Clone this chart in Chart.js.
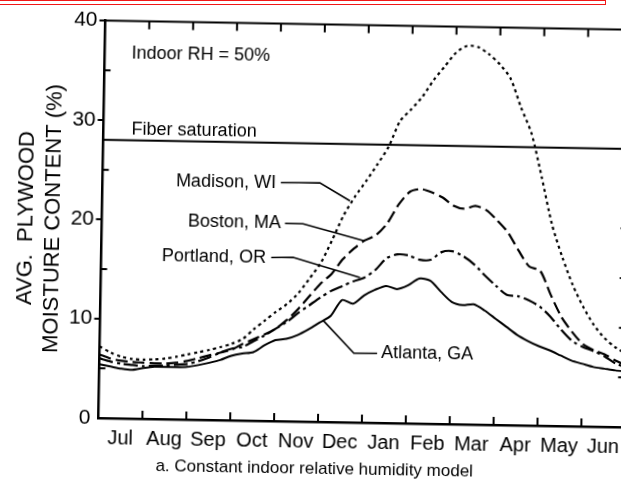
<!DOCTYPE html>
<html>
<head>
<meta charset="utf-8">
<script src="https://cdn.jsdelivr.net/npm/chart.js@4.4.1/dist/chart.umd.min.js"></script>
<style>
  html, body { margin: 0; padding: 0; background: #fff; overflow: hidden; }
  #wrap { position: absolute; left: 0; top: 0; width: 640px; height: 484px;
          transform-origin: 98.5px 418px; transform: rotate(1deg); }
  #mark { position: absolute; left: -3px; top: 0; width: 609px; height: 5px;
          box-sizing: border-box; border: 1.5px solid #f01818; }
</style>
</head>
<body>
<div id="wrap"><canvas id="chart"></canvas></div>
<div id="mark"></div>
<script>
// months counted from 1 July, plotted every quarter month
const months = ["Jul", "Aug", "Sep", "Oct", "Nov", "Dec", "Jan", "Feb", "Mar", "Apr", "May", "Jun"];
const weeks = [0, 0.25, 0.5, 0.75, 1, 1.25, 1.5, 1.75, 2, 2.25, 2.5, 2.75, 3, 3.25, 3.5, 3.75,
  4, 4.25, 4.5, 4.75, 5, 5.25, 5.5, 5.75, 6, 6.25, 6.5, 6.75, 7, 7.25, 7.5, 7.75,
  8, 8.25, 8.5, 8.75, 9, 9.25, 9.5, 9.75, 10, 10.25, 10.5, 10.75, 11, 11.25, 11.5, 11.75, 12];

const madison = [7.2, 6.6, 6.2, 6.0, 5.95, 6.0, 6.1, 6.3, 6.55, 6.8, 7.05, 7.35, 7.7, 8.2, 9.2, 10.1,
  11.0, 11.8, 12.9, 14.4, 16.0, 18.3, 20.8, 22.7, 24.3, 26.0, 27.8, 30.4, 31.6, 32.9, 34.6, 36.0,
  37.4, 38.1, 38.0, 37.3, 36.3, 34.9, 32.0, 29.4, 25.0, 20.3, 17.0, 14.2, 12.0, 10.2, 8.9, 8.0, 7.4];
const boston = [6.4, 6.0, 5.8, 5.7, 5.65, 5.6, 5.6, 5.7, 5.9, 6.2, 6.5, 6.8, 7.1, 7.7, 8.2, 8.7,
  9.3, 10.2, 11.3, 12.6, 13.9, 14.9, 16.4, 17.5, 18.35, 18.9, 20.1, 22.0, 23.3, 23.6, 23.3, 22.8,
  22.0, 21.7, 22.0, 21.6, 20.6, 19.4, 17.6, 16.0, 15.6, 13.2, 11.0, 9.5, 8.3, 7.7, 7.3, 6.7, 6.2];
const portland = [6.0, 5.7, 5.5, 5.4, 5.3, 5.35, 5.4, 5.5, 5.6, 5.9, 6.3, 6.8, 7.2, 7.4, 8.0, 8.6,
  9.3, 10.0, 10.9, 11.7, 12.5, 13.2, 13.7, 14.2, 14.6, 15.4, 16.6, 17.0, 16.9, 16.5, 16.5, 17.3,
  17.4, 16.9, 16.1, 15.0, 14.0, 13.1, 13.0, 12.6, 12.0, 11.0, 9.7, 8.6, 8.0, 7.6, 7.1, 6.4, 6.0];
const atlanta = [5.4, 5.2, 5.0, 4.9, 5.1, 5.25, 5.25, 5.25, 5.3, 5.5, 5.75, 6.05, 6.5, 6.75, 6.9, 7.6,
  8.15, 8.3, 8.7, 9.3, 10.0, 10.7, 12.3, 11.95, 12.8, 13.4, 13.8, 13.5, 13.9, 14.6, 14.4, 13.3,
  12.3, 12.0, 12.1, 11.5, 10.7, 9.9, 9.1, 8.5, 8.0, 7.6, 7.1, 6.6, 6.3, 6.0, 5.85, 5.7, 5.6];
const fiberSaturation = 28;

const FONT = "'Liberation Sans', Arial, sans-serif";

// annotation texts and their leader lines, in data units
const notes = [
  { text: "Indoor RH = 50%", at: [0.61, 36.7], align: "left" },
  { text: "Fiber saturation", at: [0.64, 29.1], align: "left" },
  { text: "Madison, WI", at: [3.95, 24.0], align: "right", leader: [[4.06, 24.0], [4.95, 24.06], [5.64, 22.3]] },
  { text: "Boston, MA", at: [4.08, 19.9], align: "right", leader: [[4.17, 19.9], [4.58, 19.9], [5.98, 18.3]] },
  { text: "Portland, OR", at: [3.75, 16.4], align: "right", leader: [[3.87, 16.45], [4.37, 16.5], [5.9, 14.6]] },
  { text: "Atlanta, GA", at: [6.41, 7.0], align: "left", leader: [[6.32, 7.0], [5.79, 6.97], [5.08, 10.2]] }
];

const pts = s => weeks.map((w, i) => ({ x: w, y: s[i] }));

const frame = {
  id: "frame",
  afterDatasetsDraw(chart) {
    const { ctx, chartArea: a, scales: { x, y } } = chart;
    ctx.save();
    ctx.strokeStyle = "#000";
    ctx.lineWidth = 2;
    ctx.beginPath();
    ctx.moveTo(a.left - 1, a.top);
    ctx.lineTo(a.right, a.top);
    ctx.lineTo(a.right, a.bottom);
    months.forEach((m, i) => {
      if (i === 0) return;
      const px = x.getPixelForValue(i);
      ctx.moveTo(px, a.bottom);
      ctx.lineTo(px, a.bottom - 8);
      ctx.moveTo(px, a.top);
      ctx.lineTo(px, a.top + 8);
    });
    [5, 15, 25, 35].forEach(v => {
      const py = y.getPixelForValue(v);
      ctx.moveTo(a.left, py);
      ctx.lineTo(a.left + 6, py);
    });
    [10, 20, 30, 40].forEach(v => {
      const py = y.getPixelForValue(v);
      ctx.moveTo(a.left, py);
      ctx.lineTo(a.left - 6, py);
    });
    [5, 10, 15, 20, 25, 30, 35].forEach(v => {
      const py = y.getPixelForValue(v);
      ctx.moveTo(a.right, py);
      ctx.lineTo(a.right - 8, py);
    });
    ctx.stroke();

    ctx.lineWidth = 1.6;
    ctx.fillStyle = "#000";
    ctx.font = "18px " + FONT;
    ctx.textBaseline = "middle";
    notes.forEach(n => {
      ctx.textAlign = n.align;
      ctx.fillText(n.text, x.getPixelForValue(n.at[0]), y.getPixelForValue(n.at[1]));
      if (n.leader) {
        ctx.beginPath();
        n.leader.forEach((p, i) => {
          const px = x.getPixelForValue(p[0]), py = y.getPixelForValue(p[1]);
          if (i === 0) ctx.moveTo(px, py); else ctx.lineTo(px, py);
        });
        ctx.stroke();
      }
    });
    ctx.restore();
  }
};

const line = (label, values, dash, width) => ({
  label: label,
  data: pts(values),
  borderColor: "#000",
  borderWidth: width,
  borderDash: dash,
  pointRadius: 0,
  tension: 0.25,
  fill: false
});

new Chart(document.getElementById("chart"), {
  type: "line",
  data: {
    datasets: [
      line("Madison, WI", madison, [3, 3.5], 2.2),
      line("Boston, MA", boston, [12, 5], 2.2),
      line("Portland, OR", portland, [14, 4, 3, 4], 2.2),
      line("Atlanta, GA", atlanta, [], 2),
      {
        label: "Fiber saturation",
        data: [{ x: 0, y: fiberSaturation }, { x: 12, y: fiberSaturation }],
        borderColor: "#000",
        borderWidth: 2,
        pointRadius: 0
      }
    ]
  },
  options: {
    responsive: true,
    maintainAspectRatio: false,
    animation: false,
    layout: { padding: { left: 5, top: 19.2, right: 14.7, bottom: 0 } },
    plugins: {
      legend: { display: false },
      tooltip: { enabled: false },
      title: {
        display: true,
        position: "bottom",
        text: "a. Constant indoor relative humidity model",
        color: "#000",
        font: { family: FONT, size: 17, weight: "normal", lineHeight: 1.2 },
        padding: { top: 0, bottom: 8 }
      }
    },
    scales: {
      x: {
        type: "linear",
        min: 0,
        max: 12,
        afterBuildTicks: s => { s.ticks = months.map((m, i) => ({ value: i + 0.5 })); },
        afterFit: s => { s.height = 37.6; },
        ticks: {
          autoSkip: false,
          maxRotation: 0,
          padding: 8,
          color: "#000",
          font: { family: FONT, size: 20, lineHeight: 1.2 },
          callback: v => months[Math.floor(v)]
        },
        grid: { display: false, drawTicks: false },
        border: { display: true, color: "#000", width: 2.5 }
      },
      y: {
        min: 0,
        max: 40,
        afterFit: s => { s.width = 93.5; },
        ticks: {
          stepSize: 10,
          padding: 8,
          color: "#000",
          font: { family: FONT, size: 21 }
        },
        grid: { display: false, drawTicks: false },
        border: { display: true, color: "#000", width: 2.5 },
        title: {
          display: true,
          text: ["AVG.  PLYWOOD", "MOISTURE CONTENT (%)"],
          color: "#000",
          font: { family: FONT, size: 22, lineHeight: 1.227 },
          padding: { top: 4, bottom: 0 }
        }
      }
    }
  },
  plugins: [frame]
});
</script>
</body>
</html>
